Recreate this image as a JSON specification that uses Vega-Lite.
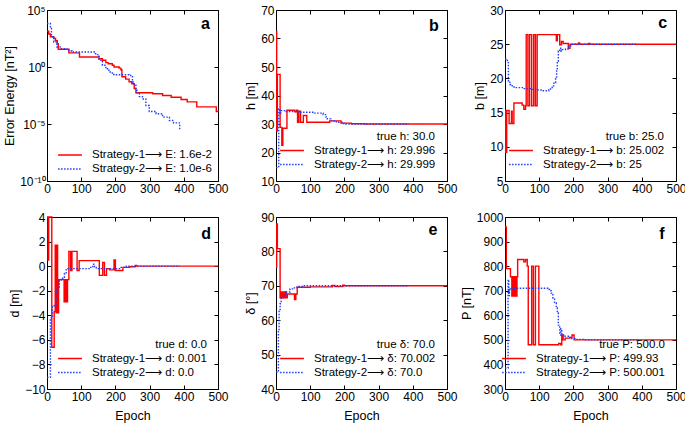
{
  "$schema": "https://vega.github.io/schema/vega-lite/v6.json",
  "background": "white",
  "padding": {"left": 3, "top": 3, "right": 5, "bottom": 5},
  "config": {
    "font": "Liberation Sans",
    "view": {"stroke": "black", "strokeWidth": 1},
    "axis": {"domain": false, "grid": false, "tickSize": -4, "tickColor": "black", "tickWidth": 1, "labelFontSize": 12, "labelColor": "black", "labelPadding": 6, "labelFlush": false, "titleFontSize": 12.5, "titleFontWeight": "normal", "titleColor": "black", "titlePadding": 3},
    "legend": {"orient": "bottom-right", "offset": 11, "symbolType": "M-1.7,0L1.7,0", "symbolSize": 196, "symbolStrokeWidth": 1.5, "labelFontSize": 11.5, "titleFontSize": 11.5, "titleFontWeight": "normal", "titleAnchor": "end", "titleColor": "black", "labelColor": "black", "rowPadding": 0, "labelOffset": 14, "titleLimit": 300, "labelLimit": 300, "padding": 0, "titlePadding": 0},
    "text": {"fontSize": 16, "fontWeight": "bold", "align": "center", "baseline": "alphabetic", "color": "black"},
    "line": {"interpolate": "step-after", "strokeWidth": 1.4, "clip": true}
  },
  "datasets": {
    "one": [{}],
    "a": [
      {"e": 0, "v": 1413, "s": "S1"}, {"e": 5, "v": 794, "s": "S1"}, {"e": 10, "v": 447, "s": "S1"}, {"e": 20, "v": 316, "s": "S1"}, {"e": 25, "v": 200, "s": "S1"}, {"e": 30, "v": 112, "s": "S1"}, {"e": 33, "v": 36.3, "s": "S1"}, {"e": 64, "v": 17.4, "s": "S1"}, {"e": 95, "v": 7.59, "s": "S1"}, {"e": 152, "v": 5.37, "s": "S1"}, {"e": 162, "v": 3.89, "s": "S1"}, {"e": 172, "v": 2.4, "s": "S1"}, {"e": 179, "v": 1.95, "s": "S1"}, {"e": 191, "v": 1.41, "s": "S1"}, {"e": 196, "v": 1.0, "s": "S1"}, {"e": 211, "v": 0.794, "s": "S1"}, {"e": 216, "v": 0.575, "s": "S1"}, {"e": 219, "v": 0.141, "s": "S1"}, {"e": 230, "v": 0.0871, "s": "S1"}, {"e": 240, "v": 0.0501, "s": "S1"}, {"e": 248, "v": 0.0339, "s": "S1"}, {"e": 255, "v": 0.0126, "s": "S1"}, {"e": 260, "v": 0.0055, "s": "S1"}, {"e": 309, "v": 0.00447, "s": "S1"}, {"e": 338, "v": 0.00316, "s": "S1"}, {"e": 363, "v": 0.00224, "s": "S1"}, {"e": 392, "v": 0.00141, "s": "S1"}, {"e": 410, "v": 0.00087, "s": "S1"}, {"e": 438, "v": 0.000316, "s": "S1"}, {"e": 495, "v": 0.000126, "s": "S1"}, {"e": 500, "v": 0.000107, "s": "S1"},
      {"e": 0, "v": 6607, "s": "S2"}, {"e": 10, "v": 2399, "s": "S2"}, {"e": 13, "v": 447, "s": "S2"}, {"e": 20, "v": 158, "s": "S2"}, {"e": 29, "v": 57.5, "s": "S2"}, {"e": 39, "v": 39.8, "s": "S2"}, {"e": 54, "v": 36.3, "s": "S2"}, {"e": 64, "v": 25.7, "s": "S2"}, {"e": 73, "v": 20.9, "s": "S2"}, {"e": 142, "v": 12.3, "s": "S2"}, {"e": 152, "v": 3.89, "s": "S2"}, {"e": 162, "v": 1.41, "s": "S2"}, {"e": 172, "v": 0.708, "s": "S2"}, {"e": 181, "v": 0.363, "s": "S2"}, {"e": 191, "v": 0.224, "s": "S2"}, {"e": 196, "v": 0.209, "s": "S2"}, {"e": 240, "v": 0.178, "s": "S2"}, {"e": 250, "v": 0.0479, "s": "S2"}, {"e": 255, "v": 0.0251, "s": "S2"}, {"e": 260, "v": 0.0087, "s": "S2"}, {"e": 263, "v": 0.0055, "s": "S2"}, {"e": 270, "v": 0.00251, "s": "S2"}, {"e": 279, "v": 0.00158, "s": "S2"}, {"e": 289, "v": 0.000417, "s": "S2"}, {"e": 299, "v": 0.000126, "s": "S2"}, {"e": 319, "v": 0.0000794, "s": "S2"}, {"e": 338, "v": 0.0000398, "s": "S2"}, {"e": 358, "v": 0.00002, "s": "S2"}, {"e": 370, "v": 0.0000126, "s": "S2"}, {"e": 387, "v": 0.00001, "s": "S2"}, {"e": 388, "v": 0.0000025, "s": "S2"}
    ],
    "b": [
      {"e": 0, "v": 62.5, "s": "S1"}, {"e": 2, "v": 27.5, "s": "S1"}, {"e": 4, "v": 47.4, "s": "S1"}, {"e": 12, "v": 28.8, "s": "S1"}, {"e": 17, "v": 22.5, "s": "S1"}, {"e": 20, "v": 28.5, "s": "S1"}, {"e": 32, "v": 34.8, "s": "S1"}, {"e": 55, "v": 34.3, "s": "S1"}, {"e": 60, "v": 34.8, "s": "S1"}, {"e": 63, "v": 30.6, "s": "S1"}, {"e": 67, "v": 34.5, "s": "S1"}, {"e": 72, "v": 30.6, "s": "S1"}, {"e": 80, "v": 33, "s": "S1"}, {"e": 90, "v": 30.6, "s": "S1"}, {"e": 157, "v": 31.1, "s": "S1"}, {"e": 190, "v": 30.3, "s": "S1"}, {"e": 220, "v": 30.1, "s": "S1"}, {"e": 260, "v": 30.0, "s": "S1"}, {"e": 500, "v": 30.0, "s": "S1"},
      {"e": 0, "v": 14.7, "s": "S2"}, {"e": 8, "v": 35.3, "s": "S2"}, {"e": 11, "v": 33.5, "s": "S2"}, {"e": 14, "v": 34.7, "s": "S2"}, {"e": 30, "v": 34.4, "s": "S2"}, {"e": 70, "v": 34.1, "s": "S2"}, {"e": 110, "v": 33.8, "s": "S2"}, {"e": 138, "v": 33.3, "s": "S2"}, {"e": 145, "v": 32.5, "s": "S2"}, {"e": 150, "v": 31.8, "s": "S2"}, {"e": 160, "v": 31.2, "s": "S2"}, {"e": 170, "v": 30.8, "s": "S2"}, {"e": 180, "v": 30.6, "s": "S2"}, {"e": 195, "v": 30.2, "s": "S2"}, {"e": 200, "v": 30.0, "s": "S2"}, {"e": 388, "v": 30.0, "s": "S2"}
    ],
    "c": [
      {"e": 0, "v": 15.3, "s": "S1"}, {"e": 2, "v": 9.2, "s": "S1"}, {"e": 5, "v": 15.3, "s": "S1"}, {"e": 12, "v": 13.4, "s": "S1"}, {"e": 19, "v": 15.2, "s": "S1"}, {"e": 21, "v": 13.4, "s": "S1"}, {"e": 26, "v": 16.4, "s": "S1"}, {"e": 50, "v": 16.1, "s": "S1"}, {"e": 55, "v": 15.5, "s": "S1"}, {"e": 60, "v": 16.0, "s": "S1"}, {"e": 62, "v": 26.4, "s": "S1"}, {"e": 67, "v": 16.0, "s": "S1"}, {"e": 72, "v": 26.4, "s": "S1"}, {"e": 78, "v": 16.0, "s": "S1"}, {"e": 84, "v": 26.4, "s": "S1"}, {"e": 89, "v": 16.0, "s": "S1"}, {"e": 94, "v": 26.4, "s": "S1"}, {"e": 150, "v": 25.5, "s": "S1"}, {"e": 153, "v": 26.4, "s": "S1"}, {"e": 160, "v": 24.9, "s": "S1"}, {"e": 165, "v": 25.4, "s": "S1"}, {"e": 170, "v": 25.1, "s": "S1"}, {"e": 185, "v": 24.4, "s": "S1"}, {"e": 190, "v": 25.0, "s": "S1"}, {"e": 215, "v": 25.2, "s": "S1"}, {"e": 218, "v": 25.0, "s": "S1"}, {"e": 245, "v": 25.1, "s": "S1"}, {"e": 248, "v": 25.0, "s": "S1"}, {"e": 500, "v": 25.0, "s": "S1"},
      {"e": 0, "v": 22.8, "s": "S2"}, {"e": 7, "v": 22.3, "s": "S2"}, {"e": 10, "v": 19.6, "s": "S2"}, {"e": 14, "v": 19.1, "s": "S2"}, {"e": 21, "v": 18.75, "s": "S2"}, {"e": 31, "v": 18.65, "s": "S2"}, {"e": 51, "v": 18.5, "s": "S2"}, {"e": 80, "v": 18.4, "s": "S2"}, {"e": 94, "v": 18.3, "s": "S2"}, {"e": 109, "v": 18.2, "s": "S2"}, {"e": 128, "v": 18.3, "s": "S2"}, {"e": 133, "v": 18.65, "s": "S2"}, {"e": 138, "v": 18.9, "s": "S2"}, {"e": 143, "v": 19.4, "s": "S2"}, {"e": 148, "v": 20.0, "s": "S2"}, {"e": 151, "v": 21.1, "s": "S2"}, {"e": 153, "v": 22.5, "s": "S2"}, {"e": 156, "v": 24.0, "s": "S2"}, {"e": 160, "v": 24.4, "s": "S2"}, {"e": 163, "v": 24.0, "s": "S2"}, {"e": 167, "v": 24.2, "s": "S2"}, {"e": 177, "v": 24.3, "s": "S2"}, {"e": 187, "v": 24.7, "s": "S2"}, {"e": 192, "v": 25.0, "s": "S2"}, {"e": 388, "v": 25.0, "s": "S2"}
    ],
    "d": [
      {"e": 0, "v": 4.0, "s": "S1"}, {"e": 3, "v": 0.5, "s": "S1"}, {"e": 5, "v": 4.0, "s": "S1"}, {"e": 14, "v": -6.6, "s": "S1"}, {"e": 21, "v": -3.7, "s": "S1"}, {"e": 24, "v": 1.7, "s": "S1"}, {"e": 27, "v": -3.8, "s": "S1"}, {"e": 29, "v": 1.7, "s": "S1"}, {"e": 31, "v": -3.8, "s": "S1"}, {"e": 34, "v": -1.1, "s": "S1"}, {"e": 50, "v": -2.9, "s": "S1"}, {"e": 53, "v": -1.1, "s": "S1"}, {"e": 56, "v": -2.9, "s": "S1"}, {"e": 60, "v": -1.1, "s": "S1"}, {"e": 64, "v": 1.2, "s": "S1"}, {"e": 69, "v": -0.35, "s": "S1"}, {"e": 73, "v": 1.2, "s": "S1"}, {"e": 88, "v": -0.35, "s": "S1"}, {"e": 94, "v": 0.45, "s": "S1"}, {"e": 153, "v": -0.75, "s": "S1"}, {"e": 163, "v": 0.3, "s": "S1"}, {"e": 168, "v": -0.75, "s": "S1"}, {"e": 174, "v": -0.2, "s": "S1"}, {"e": 183, "v": -0.3, "s": "S1"}, {"e": 196, "v": 0.5, "s": "S1"}, {"e": 200, "v": -0.35, "s": "S1"}, {"e": 222, "v": -0.1, "s": "S1"}, {"e": 241, "v": -0.05, "s": "S1"}, {"e": 258, "v": 0.05, "s": "S1"}, {"e": 262, "v": 0.0, "s": "S1"}, {"e": 500, "v": 0.0, "s": "S1"},
      {"e": 0, "v": -9.05, "s": "S2"}, {"e": 10, "v": -4.3, "s": "S2"}, {"e": 13, "v": -4.2, "s": "S2"}, {"e": 16, "v": -3.3, "s": "S2"}, {"e": 21, "v": -3.1, "s": "S2"}, {"e": 26, "v": -2.0, "s": "S2"}, {"e": 31, "v": -1.75, "s": "S2"}, {"e": 36, "v": -1.15, "s": "S2"}, {"e": 41, "v": -1.0, "s": "S2"}, {"e": 46, "v": -0.9, "s": "S2"}, {"e": 51, "v": -0.6, "s": "S2"}, {"e": 56, "v": -0.3, "s": "S2"}, {"e": 61, "v": -0.2, "s": "S2"}, {"e": 128, "v": -0.1, "s": "S2"}, {"e": 134, "v": 0.15, "s": "S2"}, {"e": 139, "v": -0.1, "s": "S2"}, {"e": 144, "v": -0.2, "s": "S2"}, {"e": 212, "v": -0.1, "s": "S2"}, {"e": 232, "v": 0.0, "s": "S2"}, {"e": 388, "v": 0.0, "s": "S2"}
    ],
    "e": [
      {"e": 0, "v": 75.4, "s": "S1"}, {"e": 2, "v": 88, "s": "S1"}, {"e": 4, "v": 80.8, "s": "S1"}, {"e": 12, "v": 66.5, "s": "S1"}, {"e": 15, "v": 68.2, "s": "S1"}, {"e": 18, "v": 66.5, "s": "S1"}, {"e": 21, "v": 68.2, "s": "S1"}, {"e": 24, "v": 66.5, "s": "S1"}, {"e": 27, "v": 68.2, "s": "S1"}, {"e": 30, "v": 66.5, "s": "S1"}, {"e": 33, "v": 67.6, "s": "S1"}, {"e": 54, "v": 66.0, "s": "S1"}, {"e": 58, "v": 67.6, "s": "S1"}, {"e": 62, "v": 69.6, "s": "S1"}, {"e": 100, "v": 69.7, "s": "S1"}, {"e": 165, "v": 70.1, "s": "S1"}, {"e": 172, "v": 69.8, "s": "S1"}, {"e": 195, "v": 70.2, "s": "S1"}, {"e": 200, "v": 70.0, "s": "S1"}, {"e": 500, "v": 70.0, "s": "S1"},
      {"e": 0, "v": 44.9, "s": "S2"}, {"e": 7, "v": 57, "s": "S2"}, {"e": 9, "v": 62.8, "s": "S2"}, {"e": 12, "v": 64.8, "s": "S2"}, {"e": 15, "v": 66.5, "s": "S2"}, {"e": 21, "v": 67.2, "s": "S2"}, {"e": 29, "v": 68.2, "s": "S2"}, {"e": 41, "v": 69.1, "s": "S2"}, {"e": 51, "v": 69.4, "s": "S2"}, {"e": 61, "v": 69.8, "s": "S2"}, {"e": 80, "v": 70.0, "s": "S2"}, {"e": 388, "v": 70.0, "s": "S2"}
    ],
    "f": [
      {"e": 0, "v": 959, "s": "S1"}, {"e": 4, "v": 790, "s": "S1"}, {"e": 16, "v": 757, "s": "S1"}, {"e": 20, "v": 678, "s": "S1"}, {"e": 23, "v": 757, "s": "S1"}, {"e": 26, "v": 678, "s": "S1"}, {"e": 29, "v": 757, "s": "S1"}, {"e": 32, "v": 678, "s": "S1"}, {"e": 35, "v": 757, "s": "S1"}, {"e": 37, "v": 827, "s": "S1"}, {"e": 55, "v": 818, "s": "S1"}, {"e": 60, "v": 827, "s": "S1"}, {"e": 65, "v": 800, "s": "S1"}, {"e": 68, "v": 480, "s": "S1"}, {"e": 78, "v": 800, "s": "S1"}, {"e": 83, "v": 480, "s": "S1"}, {"e": 89, "v": 800, "s": "S1"}, {"e": 99, "v": 480, "s": "S1"}, {"e": 157, "v": 485, "s": "S1"}, {"e": 163, "v": 480, "s": "S1"}, {"e": 166, "v": 520, "s": "S1"}, {"e": 170, "v": 500, "s": "S1"}, {"e": 176, "v": 507, "s": "S1"}, {"e": 190, "v": 510, "s": "S1"}, {"e": 196, "v": 520, "s": "S1"}, {"e": 202, "v": 500, "s": "S1"}, {"e": 500, "v": 500, "s": "S1"},
      {"e": 0, "v": 385, "s": "S2"}, {"e": 8, "v": 385, "s": "S2"}, {"e": 9, "v": 745, "s": "S2"}, {"e": 11, "v": 680, "s": "S2"}, {"e": 13, "v": 710, "s": "S2"}, {"e": 15, "v": 705, "s": "S2"}, {"e": 20, "v": 710, "s": "S2"}, {"e": 120, "v": 710, "s": "S2"}, {"e": 125, "v": 705, "s": "S2"}, {"e": 130, "v": 700, "s": "S2"}, {"e": 135, "v": 690, "s": "S2"}, {"e": 140, "v": 670, "s": "S2"}, {"e": 145, "v": 650, "s": "S2"}, {"e": 150, "v": 630, "s": "S2"}, {"e": 153, "v": 610, "s": "S2"}, {"e": 156, "v": 560, "s": "S2"}, {"e": 160, "v": 520, "s": "S2"}, {"e": 163, "v": 545, "s": "S2"}, {"e": 166, "v": 520, "s": "S2"}, {"e": 175, "v": 515, "s": "S2"}, {"e": 185, "v": 510, "s": "S2"}, {"e": 195, "v": 505, "s": "S2"}, {"e": 210, "v": 502, "s": "S2"}, {"e": 230, "v": 500, "s": "S2"}, {"e": 388, "v": 500, "s": "S2"}
    ]
  },
  "columns": 3,
  "spacing": {"row": 36, "column": 58},
  "bounds": "flush",
  "resolve": {
    "scale": {"x": "independent", "y": "independent", "color": "independent", "strokeDash": "independent"},
    "legend": {"color": "independent", "strokeDash": "independent"}
  },
  "concat": [
    {
      "width": 171, "height": 171,
      "data": {"name": "a"},
      "resolve": {"axis": {"x": "independent", "y": "independent"}},
      "layer": [
        {
          "mark": {"type": "line"},
          "encoding": {
            "x": {"field": "e", "type": "quantitative", "scale": {"domain": [0, 500], "nice": false}, "axis": {"values": [0, 100, 200, 300, 400, 500], "title": null}},
            "y": {"field": "v", "type": "quantitative", "scale": {"type": "log", "domain": [1e-10, 100000], "nice": false}, "axis": {"values": [1e-10, 0.00001, 1, 100000], "title": "Error Energy [nT²]", "labelExpr": "datum.value > 1000 ? '10⁵' : datum.value > 0.1 ? '10⁰' : datum.value > 1e-7 ? '10⁻⁵' : '10⁻¹⁰'"}},
            "color": {"field": "s", "type": "nominal", "scale": {"domain": ["S1", "S2"], "range": ["#ff0000", "#1f3cff"]}, "legend": {"title": null, "offset": 6, "labelExpr": "datum.label == 'S1' ? 'Strategy-1⟶ E: 1.6e-2' : 'Strategy-2⟶ E: 1.0e-6'"}},
            "strokeDash": {"field": "s", "type": "nominal", "scale": {"domain": ["S1", "S2"], "range": [[1, 0], [1.5, 1.5]]}, "legend": {"title": null, "offset": 6, "labelExpr": "datum.label == 'S1' ? 'Strategy-1⟶ E: 1.6e-2' : 'Strategy-2⟶ E: 1.0e-6'"}}
          }
        },
        {
          "mark": {"type": "line", "strokeOpacity": 0},
          "encoding": {
            "x": {"field": "e", "type": "quantitative", "scale": {"domain": [0, 500], "nice": false}, "axis": {"orient": "top", "labels": false, "title": null, "values": [0, 100, 200, 300, 400, 500]}},
            "y": {"field": "v", "type": "quantitative", "scale": {"type": "log", "domain": [1e-10, 100000], "nice": false}, "axis": {"orient": "right", "labels": false, "title": null, "values": [1e-10, 0.00001, 1, 100000]}}
          }
        },
        {
          "data": {"name": "one"},
          "mark": {"type": "text"},
          "encoding": {
            "x": {"datum": 463, "type": "quantitative", "axis": null},
            "y": {"datum": 2089, "type": "quantitative", "axis": null},
            "text": {"value": "a"}
          }
        }
      ]
    },
    {
      "width": 171, "height": 171,
      "data": {"name": "b"},
      "resolve": {"axis": {"x": "independent", "y": "independent"}},
      "layer": [
        {
          "mark": {"type": "line"},
          "encoding": {
            "x": {"field": "e", "type": "quantitative", "scale": {"domain": [0, 500], "nice": false}, "axis": {"values": [0, 100, 200, 300, 400, 500], "title": null}},
            "y": {"field": "v", "type": "quantitative", "scale": {"domain": [10, 70], "nice": false}, "axis": {"values": [10, 20, 30, 40, 50, 60, 70], "title": "h [m]"}},
            "color": {"field": "s", "type": "nominal", "scale": {"domain": ["S1", "S2"], "range": ["#ff0000", "#1f3cff"]}, "legend": {"title": "true h: 30.0", "labelExpr": "datum.label == 'S1' ? 'Strategy-1⟶ h: 29.996' : 'Strategy-2⟶ h: 29.999'"}},
            "strokeDash": {"field": "s", "type": "nominal", "scale": {"domain": ["S1", "S2"], "range": [[1, 0], [1.5, 1.5]]}, "legend": {"title": "true h: 30.0", "labelExpr": "datum.label == 'S1' ? 'Strategy-1⟶ h: 29.996' : 'Strategy-2⟶ h: 29.999'"}}
          }
        },
        {
          "mark": {"type": "line", "strokeOpacity": 0},
          "encoding": {
            "x": {"field": "e", "type": "quantitative", "scale": {"domain": [0, 500], "nice": false}, "axis": {"orient": "top", "labels": false, "title": null, "values": [0, 100, 200, 300, 400, 500]}},
            "y": {"field": "v", "type": "quantitative", "scale": {"domain": [10, 70], "nice": false}, "axis": {"orient": "right", "labels": false, "title": null, "values": [10, 20, 30, 40, 50, 60, 70]}}
          }
        },
        {
          "data": {"name": "one"},
          "mark": {"type": "text"},
          "encoding": {
            "x": {"datum": 462, "type": "quantitative", "axis": null},
            "y": {"datum": 62.6, "type": "quantitative", "axis": null},
            "text": {"value": "b"}
          }
        }
      ]
    },
    {
      "width": 171, "height": 171,
      "data": {"name": "c"},
      "resolve": {"axis": {"x": "independent", "y": "independent"}},
      "layer": [
        {
          "mark": {"type": "line"},
          "encoding": {
            "x": {"field": "e", "type": "quantitative", "scale": {"domain": [0, 500], "nice": false}, "axis": {"values": [0, 100, 200, 300, 400, 500], "title": null}},
            "y": {"field": "v", "type": "quantitative", "scale": {"domain": [5, 30], "nice": false}, "axis": {"values": [5, 10, 15, 20, 25, 30], "title": "b [m]"}},
            "color": {"field": "s", "type": "nominal", "scale": {"domain": ["S1", "S2"], "range": ["#ff0000", "#1f3cff"]}, "legend": {"title": "true b: 25.0", "labelExpr": "datum.label == 'S1' ? 'Strategy-1⟶ b: 25.002' : 'Strategy-2⟶ b: 25'"}},
            "strokeDash": {"field": "s", "type": "nominal", "scale": {"domain": ["S1", "S2"], "range": [[1, 0], [1.5, 1.5]]}, "legend": {"title": "true b: 25.0", "labelExpr": "datum.label == 'S1' ? 'Strategy-1⟶ b: 25.002' : 'Strategy-2⟶ b: 25'"}}
          }
        },
        {
          "mark": {"type": "line", "strokeOpacity": 0},
          "encoding": {
            "x": {"field": "e", "type": "quantitative", "scale": {"domain": [0, 500], "nice": false}, "axis": {"orient": "top", "labels": false, "title": null, "values": [0, 100, 200, 300, 400, 500]}},
            "y": {"field": "v", "type": "quantitative", "scale": {"domain": [5, 30], "nice": false}, "axis": {"orient": "right", "labels": false, "title": null, "values": [5, 10, 15, 20, 25, 30]}}
          }
        },
        {
          "data": {"name": "one"},
          "mark": {"type": "text"},
          "encoding": {
            "x": {"datum": 461, "type": "quantitative", "axis": null},
            "y": {"datum": 27.4, "type": "quantitative", "axis": null},
            "text": {"value": "c"}
          }
        }
      ]
    },
    {
      "width": 171, "height": 172,
      "data": {"name": "d"},
      "resolve": {"axis": {"x": "independent", "y": "independent"}},
      "layer": [
        {
          "mark": {"type": "line"},
          "encoding": {
            "x": {"field": "e", "type": "quantitative", "scale": {"domain": [0, 500], "nice": false}, "axis": {"values": [0, 100, 200, 300, 400, 500], "title": "Epoch", "titlePadding": 7}},
            "y": {"field": "v", "type": "quantitative", "scale": {"domain": [-10, 4], "nice": false}, "axis": {"values": [-10, -8, -6, -4, -2, 0, 2, 4], "title": "d [m]"}},
            "color": {"field": "s", "type": "nominal", "scale": {"domain": ["S1", "S2"], "range": ["#ff0000", "#1f3cff"]}, "legend": {"title": "true d: 0.0", "labelExpr": "datum.label == 'S1' ? 'Strategy-1⟶ d: 0.001' : 'Strategy-2⟶ d: 0.0'"}},
            "strokeDash": {"field": "s", "type": "nominal", "scale": {"domain": ["S1", "S2"], "range": [[1, 0], [1.5, 1.5]]}, "legend": {"title": "true d: 0.0", "labelExpr": "datum.label == 'S1' ? 'Strategy-1⟶ d: 0.001' : 'Strategy-2⟶ d: 0.0'"}}
          }
        },
        {
          "mark": {"type": "line", "strokeOpacity": 0},
          "encoding": {
            "x": {"field": "e", "type": "quantitative", "scale": {"domain": [0, 500], "nice": false}, "axis": {"orient": "top", "labels": false, "title": null, "values": [0, 100, 200, 300, 400, 500]}},
            "y": {"field": "v", "type": "quantitative", "scale": {"domain": [-10, 4], "nice": false}, "axis": {"orient": "right", "labels": false, "title": null, "values": [-10, -8, -6, -4, -2, 0, 2, 4]}}
          }
        },
        {
          "data": {"name": "one"},
          "mark": {"type": "text"},
          "encoding": {
            "x": {"datum": 465, "type": "quantitative", "axis": null},
            "y": {"datum": 2.24, "type": "quantitative", "axis": null},
            "text": {"value": "d"}
          }
        }
      ]
    },
    {
      "width": 171, "height": 172,
      "data": {"name": "e"},
      "resolve": {"axis": {"x": "independent", "y": "independent"}},
      "layer": [
        {
          "mark": {"type": "line"},
          "encoding": {
            "x": {"field": "e", "type": "quantitative", "scale": {"domain": [0, 500], "nice": false}, "axis": {"values": [0, 100, 200, 300, 400, 500], "title": "Epoch", "titlePadding": 7}},
            "y": {"field": "v", "type": "quantitative", "scale": {"domain": [40, 90], "nice": false}, "axis": {"values": [40, 50, 60, 70, 80, 90], "title": "δ [°]"}},
            "color": {"field": "s", "type": "nominal", "scale": {"domain": ["S1", "S2"], "range": ["#ff0000", "#1f3cff"]}, "legend": {"title": "true δ: 70.0", "labelExpr": "datum.label == 'S1' ? 'Strategy-1⟶ δ: 70.002' : 'Strategy-2⟶ δ: 70.0'"}},
            "strokeDash": {"field": "s", "type": "nominal", "scale": {"domain": ["S1", "S2"], "range": [[1, 0], [1.5, 1.5]]}, "legend": {"title": "true δ: 70.0", "labelExpr": "datum.label == 'S1' ? 'Strategy-1⟶ δ: 70.002' : 'Strategy-2⟶ δ: 70.0'"}}
          }
        },
        {
          "mark": {"type": "line", "strokeOpacity": 0},
          "encoding": {
            "x": {"field": "e", "type": "quantitative", "scale": {"domain": [0, 500], "nice": false}, "axis": {"orient": "top", "labels": false, "title": null, "values": [0, 100, 200, 300, 400, 500]}},
            "y": {"field": "v", "type": "quantitative", "scale": {"domain": [40, 90], "nice": false}, "axis": {"orient": "right", "labels": false, "title": null, "values": [40, 50, 60, 70, 80, 90]}}
          }
        },
        {
          "data": {"name": "one"},
          "mark": {"type": "text"},
          "encoding": {
            "x": {"datum": 459, "type": "quantitative", "axis": null},
            "y": {"datum": 84.7, "type": "quantitative", "axis": null},
            "text": {"value": "e"}
          }
        }
      ]
    },
    {
      "width": 171, "height": 172,
      "data": {"name": "f"},
      "resolve": {"axis": {"x": "independent", "y": "independent"}},
      "layer": [
        {
          "mark": {"type": "line"},
          "encoding": {
            "x": {"field": "e", "type": "quantitative", "scale": {"domain": [0, 500], "nice": false}, "axis": {"values": [0, 100, 200, 300, 400, 500], "title": "Epoch", "titlePadding": 7}},
            "y": {"field": "v", "type": "quantitative", "scale": {"domain": [300, 1000], "nice": false}, "axis": {"values": [300, 400, 500, 600, 700, 800, 900, 1000], "format": "d", "title": "P [nT]"}},
            "color": {"field": "s", "type": "nominal", "scale": {"domain": ["S1", "S2"], "range": ["#ff0000", "#1f3cff"]}, "legend": {"title": "true P: 500.0", "labelExpr": "datum.label == 'S1' ? 'Strategy-1⟶ P: 499.93' : 'Strategy-2⟶ P: 500.001'"}},
            "strokeDash": {"field": "s", "type": "nominal", "scale": {"domain": ["S1", "S2"], "range": [[1, 0], [1.5, 1.5]]}, "legend": {"title": "true P: 500.0", "labelExpr": "datum.label == 'S1' ? 'Strategy-1⟶ P: 499.93' : 'Strategy-2⟶ P: 500.001'"}}
          }
        },
        {
          "mark": {"type": "line", "strokeOpacity": 0},
          "encoding": {
            "x": {"field": "e", "type": "quantitative", "scale": {"domain": [0, 500], "nice": false}, "axis": {"orient": "top", "labels": false, "title": null, "values": [0, 100, 200, 300, 400, 500]}},
            "y": {"field": "v", "type": "quantitative", "scale": {"domain": [300, 1000], "nice": false}, "axis": {"orient": "right", "labels": false, "title": null, "values": [300, 400, 500, 600, 700, 800, 900, 1000]}}
          }
        },
        {
          "data": {"name": "one"},
          "mark": {"type": "text"},
          "encoding": {
            "x": {"datum": 459, "type": "quantitative", "axis": null},
            "y": {"datum": 912, "type": "quantitative", "axis": null},
            "text": {"value": "f"}
          }
        }
      ]
    }
  ]
}
